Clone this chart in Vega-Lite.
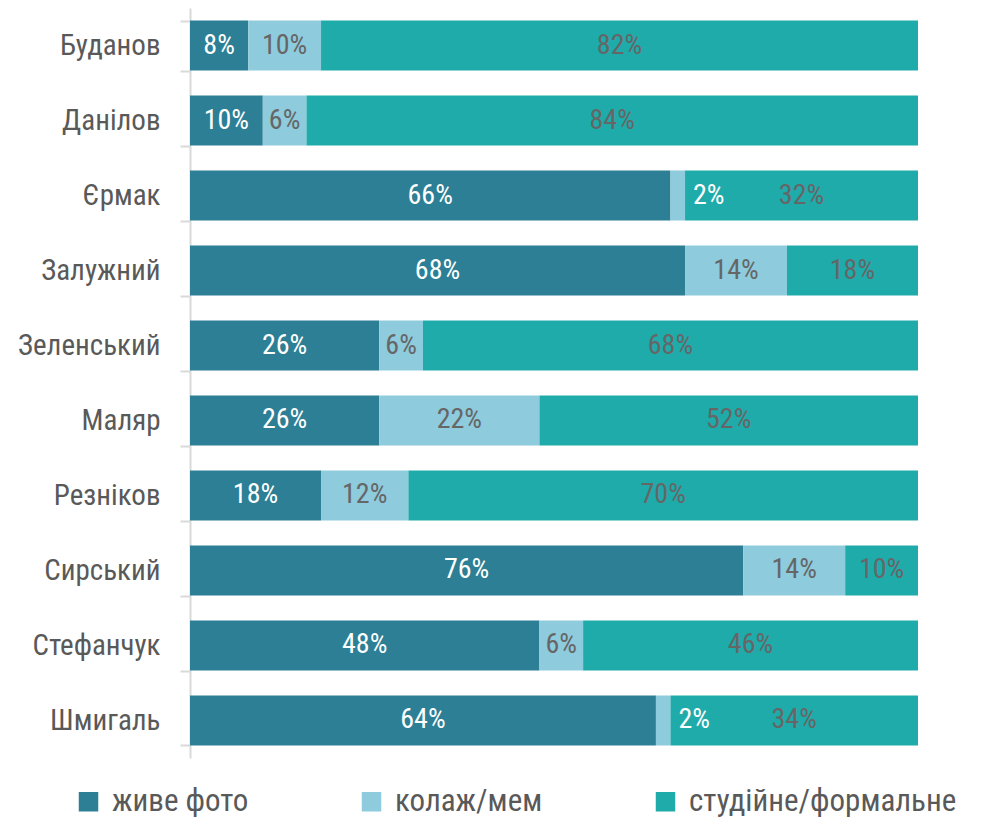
{
  "$schema": "https://vega.github.io/schema/vega-lite/v6.json",
  "autosize": "none",
  "padding": {"left": 190, "top": 8, "right": 66, "bottom": 62},
  "width": 728,
  "height": 750,
  "background": "white",
  "config": {
    "view": {"stroke": null},
    "font": "Roboto Condensed, DejaVu Sans Condensed, Roboto"
  },
  "data": {
    "values": [
      {"name": "Буданов", "type": "живе фото", "v": 0.08},
      {"name": "Буданов", "type": "колаж/мем", "v": 0.10},
      {"name": "Буданов", "type": "студійне/формальне", "v": 0.82},
      {"name": "Данілов", "type": "живе фото", "v": 0.10},
      {"name": "Данілов", "type": "колаж/мем", "v": 0.06},
      {"name": "Данілов", "type": "студійне/формальне", "v": 0.84},
      {"name": "Єрмак", "type": "живе фото", "v": 0.66},
      {"name": "Єрмак", "type": "колаж/мем", "v": 0.02},
      {"name": "Єрмак", "type": "студійне/формальне", "v": 0.32},
      {"name": "Залужний", "type": "живе фото", "v": 0.68},
      {"name": "Залужний", "type": "колаж/мем", "v": 0.14},
      {"name": "Залужний", "type": "студійне/формальне", "v": 0.18},
      {"name": "Зеленський", "type": "живе фото", "v": 0.26},
      {"name": "Зеленський", "type": "колаж/мем", "v": 0.06},
      {"name": "Зеленський", "type": "студійне/формальне", "v": 0.68},
      {"name": "Маляр", "type": "живе фото", "v": 0.26},
      {"name": "Маляр", "type": "колаж/мем", "v": 0.22},
      {"name": "Маляр", "type": "студійне/формальне", "v": 0.52},
      {"name": "Резніков", "type": "живе фото", "v": 0.18},
      {"name": "Резніков", "type": "колаж/мем", "v": 0.12},
      {"name": "Резніков", "type": "студійне/формальне", "v": 0.70},
      {"name": "Сирський", "type": "живе фото", "v": 0.76},
      {"name": "Сирський", "type": "колаж/мем", "v": 0.14},
      {"name": "Сирський", "type": "студійне/формальне", "v": 0.10},
      {"name": "Стефанчук", "type": "живе фото", "v": 0.48},
      {"name": "Стефанчук", "type": "колаж/мем", "v": 0.06},
      {"name": "Стефанчук", "type": "студійне/формальне", "v": 0.46},
      {"name": "Шмигаль", "type": "живе фото", "v": 0.64},
      {"name": "Шмигаль", "type": "колаж/мем", "v": 0.02},
      {"name": "Шмигаль", "type": "студійне/формальне", "v": 0.34}
    ]
  },
  "encoding": {
    "y": {
      "field": "name",
      "type": "nominal",
      "sort": null,
      "scale": {"paddingInner": 0.3333, "paddingOuter": 0.16667},
      "axis": {
        "title": null,
        "domainColor": "#d9d9d9",
        "domainWidth": 2,
        "tickColor": "#d9d9d9",
        "tickWidth": 2,
        "tickSize": 10,
        "tickBand": "extent",
        "labelFontSize": 29,
        "labelColor": "#595959",
        "labelPadding": 20,
        "labelFont": "Roboto Condensed, DejaVu Sans Condensed, Roboto"
      }
    }
  },
  "layer": [
    {
      "mark": {"type": "bar"},
      "encoding": {
        "x": {"field": "v", "type": "quantitative", "stack": "zero", "scale": {"domain": [0, 1], "nice": false}, "axis": null},
        "color": {
          "field": "type",
          "type": "nominal",
          "scale": {
            "domain": ["живе фото", "колаж/мем", "студійне/формальне"],
            "range": ["#2C7F95", "#8DCBDD", "#20ABAB"]
          },
          "legend": {
            "title": null,
            "orient": "none",
            "direction": "horizontal",
            "legendX": -117,
            "legendY": 778,
            "symbolType": "square",
            "symbolSize": 380,
            "symbolStrokeWidth": 0,
            "labelFontSize": 31,
            "labelColor": "#595959",
            "labelFont": "Roboto Condensed, DejaVu Sans Condensed, Roboto",
            "labelOffset": 8,
            "columnPadding": 107,
            "labelLimit": 400
          }
        },
        "order": {"field": "type", "sort": "ascending"}
      }
    },
    {
      "mark": {"type": "text", "fontSize": 28, "baseline": "middle", "align": "center"},
      "encoding": {
        "x": {"field": "v", "type": "quantitative", "stack": "zero", "bandPosition": 0.5},
        "detail": {"field": "type"},
        "order": {"field": "type", "sort": "ascending"},
        "text": {"condition": {"test": "datum.v < 0.05", "value": ""}, "field": "v", "type": "quantitative", "format": ".0%"},
        "color": {"condition": {"test": "datum.type === 'живе фото'", "value": "white"}, "value": "#666666"}
      }
    },
    {
      "transform": [
        {"stack": "v", "groupby": ["name"], "sort": [{"field": "type", "order": "ascending"}], "as": ["v0", "v1"]},
        {"filter": "datum.v < 0.05"}
      ],
      "mark": {"type": "text", "fontSize": 28, "baseline": "middle", "align": "left", "dx": 8, "color": "white"},
      "encoding": {
        "x": {"field": "v1", "type": "quantitative"},
        "text": {"field": "v", "type": "quantitative", "format": ".0%"}
      }
    }
  ]
}
